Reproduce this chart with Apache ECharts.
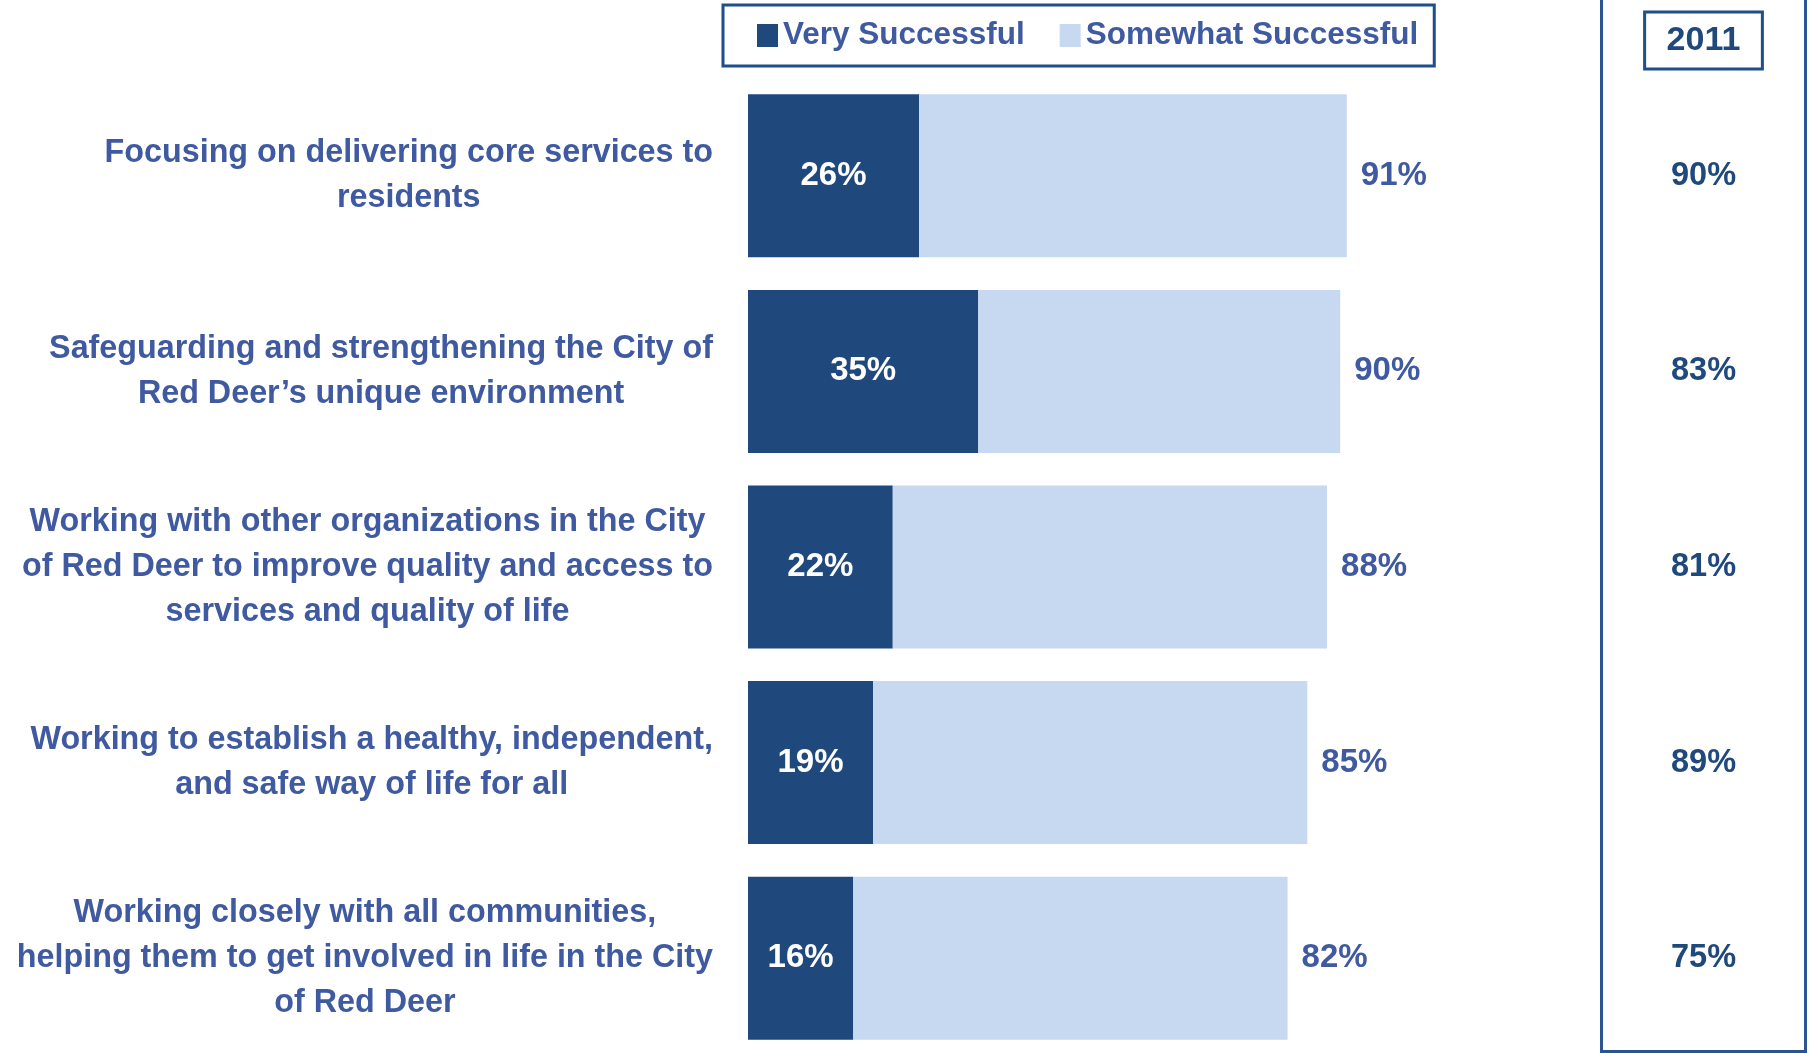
<!DOCTYPE html>
<html>
<head>
<meta charset="utf-8">
<title>Success ratings</title>
<script src="https://cdn.jsdelivr.net/npm/echarts@6/dist/echarts.min.js"></script>
<style>
  html, body { margin: 0; padding: 0; background: #fff; }
  #chart { width: 1809px; height: 1053px; }
</style>
</head>
<body>
<div id="chart"></div>
<script>
var categories = [
  'Focusing on delivering core services to\nresidents',
  'Safeguarding and strengthening the City of\nRed Deer\u2019s unique environment',
  'Working with other organizations in the City\nof Red Deer to improve quality and access to\nservices and quality of life',
  'Working to establish a healthy, independent,\nand safe way of life for all',
  'Working closely with all communities,\nhelping them to get involved in life in the City\nof Red Deer'
];
var verySuccessful = [26, 35, 22, 19, 16];
var somewhatSuccessful = [65, 55, 66, 66, 66];
var totalSuccessful = [91, 90, 88, 85, 82];
var result2011 = [90, 83, 81, 89, 75];

var FONT = '"Liberation Sans Narrow", "Liberation Sans", sans-serif';
var DARK = '#1F497D';
var LIGHT = '#C6D9F1';
var TEXT = '#3F5AA0';

var chart = echarts.init(document.getElementById('chart'));

var option = {
  animation: false,
  textStyle: { fontFamily: FONT },
  legend: {
    left: 723,
    top: 5,
    padding: [14, 16, 14, 34],
    itemGap: 35,
    itemWidth: 21,
    itemHeight: 23,
    icon: 'rect',
    borderColor: '#1F4E8C',
    borderWidth: 3,
    textStyle: { fontSize: 31.5, fontWeight: 'bold', color: TEXT, fontFamily: FONT, lineHeight: 33 },
    data: ['Very Successful', 'Somewhat Successful']
  },
  grid: [
    { left: 748, width: 658, top: 78, height: 978, outerBoundsMode: 'none', containLabel: false },
    { left: 1601, width: 205, top: 78, height: 978, outerBoundsMode: 'none', containLabel: false }
  ],
  xAxis: [
    { type: 'value', min: 0, max: 100, show: false, gridIndex: 0 },
    {
      type: 'value', min: 0, max: 1, gridIndex: 1, position: 'top',
      axisLine: { show: false }, axisTick: { show: false },
      axisLabel: { show: false }, splitLine: { show: false },
      name: '2011', nameLocation: 'middle', nameGap: 9,
      nameTextStyle: {
        fontSize: 34, fontWeight: 'bold', color: DARK, fontFamily: FONT, lineHeight: 36,
        borderColor: '#1F4E8C', borderWidth: 3, padding: [11, 22, 10, 22]
      }
    }
  ],
  yAxis: [
    {
      type: 'category', data: categories, inverse: true, gridIndex: 0,
      axisLine: { show: false }, axisTick: { show: false },
      axisLabel: {
        margin: 35,
        formatter: function (v) {
          return v.split('\n').map(function (l) { return '{c|' + l + '}'; }).join('\n');
        },
        rich: {
          c: { align: 'center', fontSize: 32.3, fontWeight: 'bold', color: TEXT, lineHeight: 45, fontFamily: FONT }
        }
      }
    },
    { type: 'category', data: categories, inverse: true, gridIndex: 1, show: false }
  ],
  graphic: [
    {
      type: 'rect',
      shape: { x: 1601.5, y: -10, width: 204, height: 1061.5 },
      style: { fill: 'none', stroke: '#2A5590', lineWidth: 3 }
    }
  ],
  series: [
    {
      name: 'Very Successful', type: 'bar', stack: 'a', barWidth: 163,
      data: verySuccessful,
      itemStyle: { color: DARK },
      label: {
        show: true, position: 'inside', color: '#fff', fontSize: 33, fontWeight: 'bold', fontFamily: FONT,
        formatter: '{c}%'
      }
    },
    {
      name: 'Somewhat Successful', type: 'bar', stack: 'a', barWidth: 163,
      data: somewhatSuccessful,
      itemStyle: { color: LIGHT },
      label: {
        show: true, position: 'right', distance: 14, color: TEXT, fontSize: 33, fontWeight: 'bold', fontFamily: FONT,
        formatter: function (p) { return totalSuccessful[p.dataIndex] + '%'; }
      }
    },
    {
      name: '2011', type: 'scatter', xAxisIndex: 1, yAxisIndex: 1, symbolSize: 0,
      data: result2011.map(function (v, i) { return [0.5, i]; }),
      itemStyle: { opacity: 1 },
      label: {
        show: true, position: 'inside', color: DARK, fontSize: 32.5, fontWeight: 'bold', fontFamily: FONT,
        formatter: function (p) { return result2011[p.dataIndex] + '%'; }
      }
    }
  ]
};

chart.setOption(option);
</script>
</body>
</html>
